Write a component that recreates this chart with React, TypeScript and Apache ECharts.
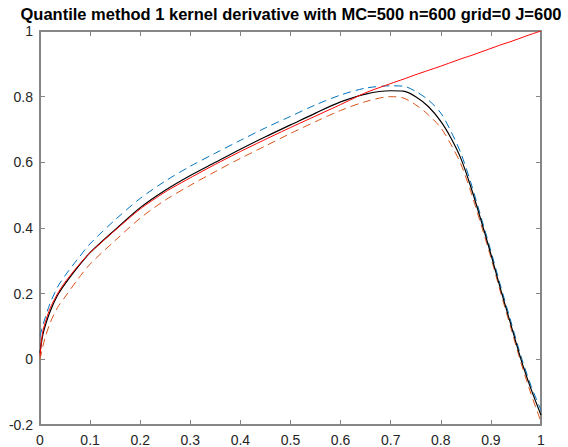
import React, { useEffect, useRef } from 'react';
import * as echarts from 'echarts';

const titleText = 'Quantile method 1 kernel derivative with MC=500 n=600 grid=0 J=600';

const xGrid = [0, 0.005, 0.01, 0.02, 0.035, 0.05, 0.075, 0.1, 0.15, 0.2, 0.25, 0.3, 0.35, 0.4, 0.45, 0.5, 0.55, 0.6, 0.65, 0.7, 0.725, 0.75, 0.775, 0.8, 0.82, 0.84, 0.86, 0.88, 0.9, 0.92, 0.94, 0.96, 0.98, 1];

// true function (red)
const trueVals = [0.01, 0.08, 0.11, 0.155, 0.2, 0.235, 0.283, 0.325, 0.393, 0.458, 0.51, 0.553, 0.594, 0.633, 0.67, 0.706, 0.741, 0.776, 0.812, 0.84, 0.853, 0.867, 0.88, 0.893, 0.904, 0.915, 0.925, 0.936, 0.947, 0.958, 0.968, 0.979, 0.99, 1.0];
// mean estimate (black)
const estVals = [0.02, 0.07, 0.1, 0.145, 0.195, 0.23, 0.28, 0.325, 0.395, 0.462, 0.515, 0.56, 0.6, 0.64, 0.678, 0.714, 0.75, 0.784, 0.808, 0.818, 0.817, 0.8, 0.77, 0.725, 0.675, 0.612, 0.525, 0.425, 0.32, 0.21, 0.105, 0.0, -0.09, -0.17];
// upper band (blue dashed)
const upperVals = [0.07, 0.1, 0.125, 0.17, 0.22, 0.255, 0.305, 0.352, 0.425, 0.49, 0.543, 0.588, 0.628, 0.667, 0.705, 0.74, 0.775, 0.805, 0.826, 0.833, 0.832, 0.816, 0.79, 0.75, 0.695, 0.628, 0.538, 0.435, 0.33, 0.22, 0.115, 0.01, -0.08, -0.155];
// lower band (orange dashed)
const lowerVals = [0.0, 0.035, 0.065, 0.11, 0.158, 0.19, 0.243, 0.29, 0.362, 0.43, 0.485, 0.53, 0.572, 0.612, 0.65, 0.688, 0.724, 0.758, 0.785, 0.8, 0.796, 0.775, 0.745, 0.705, 0.655, 0.595, 0.51, 0.412, 0.31, 0.2, 0.095, -0.01, -0.105, -0.19];

const pairs = (ys: number[]) => xGrid.map((x, i) => [x, ys[i]]);

const axisColor = '#868686';
const fontFamily = 'Liberation Sans, Arial, Helvetica, sans-serif';
const labelStyle = { color: '#262626', fontSize: 14, fontFamily };

export default function App() {
  const ref = useRef<HTMLDivElement>(null);
  useEffect(() => {
    const chart = echarts.init(ref.current!, null, { renderer: 'svg' });
    const axisLine = { show: true, onZero: false, lineStyle: { color: axisColor, width: 2 } };
    const axisTick = { show: true, inside: true, length: 5, lineStyle: { color: axisColor, width: 1 } };
    chart.setOption({
      animation: false,
      backgroundColor: '#ffffff',
      title: {
        text: titleText,
        left: 291,
        textAlign: 'center',
        top: 2,
        padding: 0,
        textStyle: { color: '#000', fontSize: 16.5, fontWeight: 'bold', fontFamily, lineHeight: 24 },
      },
      grid: { left: 40, right: 27, top: 31, bottom: 22, containLabel: false },
      xAxis: [
        { type: 'value', min: 0, max: 1, interval: 0.1, position: 'bottom', axisLine, axisTick, splitLine: { show: false }, axisLabel: { ...labelStyle, margin: 8 } },
        { type: 'value', min: 0, max: 1, interval: 0.1, position: 'top', axisLine, axisTick, splitLine: { show: false }, axisLabel: { show: false } },
      ],
      yAxis: [
        { type: 'value', min: -0.2, max: 1, interval: 0.2, position: 'left', axisLine, axisTick, splitLine: { show: false }, axisLabel: { ...labelStyle, margin: 7 } },
        { type: 'value', min: -0.2, max: 1, interval: 0.2, position: 'right', axisLine, axisTick, splitLine: { show: false }, axisLabel: { show: false } },
      ],
      series: [
        { type: 'line', name: 'upper', data: pairs(upperVals), showSymbol: false, smooth: 0.3, lineStyle: { color: '#0072BD', width: 1, type: [8, 5] } },
        { type: 'line', name: 'lower', data: pairs(lowerVals), showSymbol: false, smooth: 0.3, lineStyle: { color: '#D95319', width: 1, type: [8, 5] } },
        { type: 'line', name: 'estimate', data: pairs(estVals), showSymbol: false, smooth: 0.3, lineStyle: { color: '#000000', width: 1.2 } },
        { type: 'line', name: 'true', data: pairs(trueVals), showSymbol: false, smooth: 0.2, lineStyle: { color: '#ff0000', width: 1 } },
      ],
    });
    return () => chart.dispose();
  }, []);
  return <div ref={ref} style={{ position: 'fixed', left: 0, top: 0, width: 568, height: 447 }} />;
}
